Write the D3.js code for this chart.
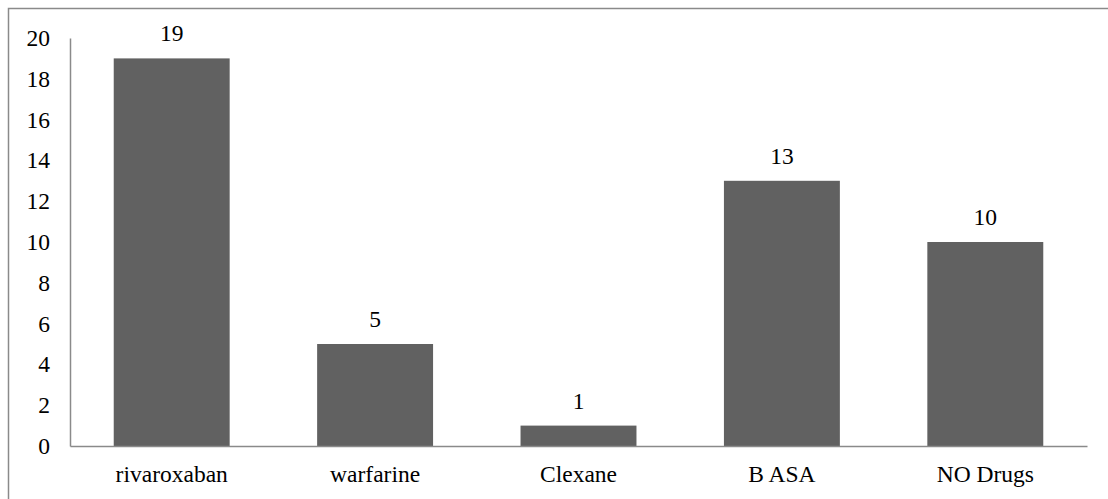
<!DOCTYPE html>
<html>
<head>
<meta charset="utf-8">
<script src="https://cdn.jsdelivr.net/npm/d3@7"></script>
<style>
  body { margin: 0; background: #fff; }
</style>
</head>
<body>
<svg id="chart"></svg>
<script>
// drug usage bar chart
const categories = ["rivaroxaban", "warfarine", "Clexane", "B ASA", "NO Drugs"];
const counts = [19, 5, 1, 13, 10];
const yTicks = [0, 2, 4, 6, 8, 10, 12, 14, 16, 18, 20];

const width = 1108;
const height = 499;
const margin = { top: 38, right: 21, bottom: 53, left: 70 };
const FONT = "'Liberation Serif', 'Times New Roman', Times, serif";
const FONT_SIZE = 23.5;

const svg = d3.select("#chart")
  .attr("width", width)
  .attr("height", height)
  .attr("font-family", FONT)
  .attr("font-size", FONT_SIZE);

// outer frame (runs off the right and bottom edges)
svg.append("rect")
  .attr("x", 8.5)
  .attr("y", 8.5)
  .attr("width", width + 10)
  .attr("height", height + 10)
  .attr("fill", "none")
  .attr("stroke", "#8a8a8a")
  .attr("stroke-width", 1.5);

const x = d3.scaleBand()
  .domain(categories)
  .range([margin.left, width - margin.right])
  .paddingInner(0.43)
  .paddingOuter(0.215);

const y = d3.scaleLinear()
  .domain([0, 20])
  .range([height - margin.bottom, margin.top]);

// y axis
const yAxis = svg.append("g")
  .attr("transform", "translate(" + margin.left + ",0)")
  .call(d3.axisLeft(y).tickValues(yTicks).tickSize(0).tickPadding(20))
  .attr("font-family", FONT)
  .attr("font-size", FONT_SIZE);
yAxis.select(".domain").attr("stroke", "#8a8a8a").attr("stroke-width", 1.5);
yAxis.selectAll("text").attr("fill", "#000");

// bars
svg.append("g")
  .selectAll("rect")
  .data(counts)
  .enter()
  .append("rect")
  .attr("x", function (d, i) { return x(categories[i]); })
  .attr("y", function (d) { return y(d); })
  .attr("width", x.bandwidth())
  .attr("height", function (d) { return y(0) - y(d); })
  .attr("fill", "#616161");

// value labels
svg.append("g")
  .selectAll("text")
  .data(counts)
  .enter()
  .append("text")
  .attr("x", function (d, i) { return x(categories[i]) + x.bandwidth() / 2; })
  .attr("y", function (d) { return y(d) - 17; })
  .attr("text-anchor", "middle")
  .attr("fill", "#000")
  .text(function (d) { return d; });

// x axis
const xAxis = svg.append("g")
  .attr("transform", "translate(0," + (height - margin.bottom) + ")")
  .call(d3.axisBottom(x).tickSize(0).tickPadding(19))
  .attr("font-family", FONT)
  .attr("font-size", FONT_SIZE);
xAxis.select(".domain").attr("stroke", "#8a8a8a").attr("stroke-width", 1.5);
xAxis.selectAll("text").attr("fill", "#000");
</script>
</body>
</html>
